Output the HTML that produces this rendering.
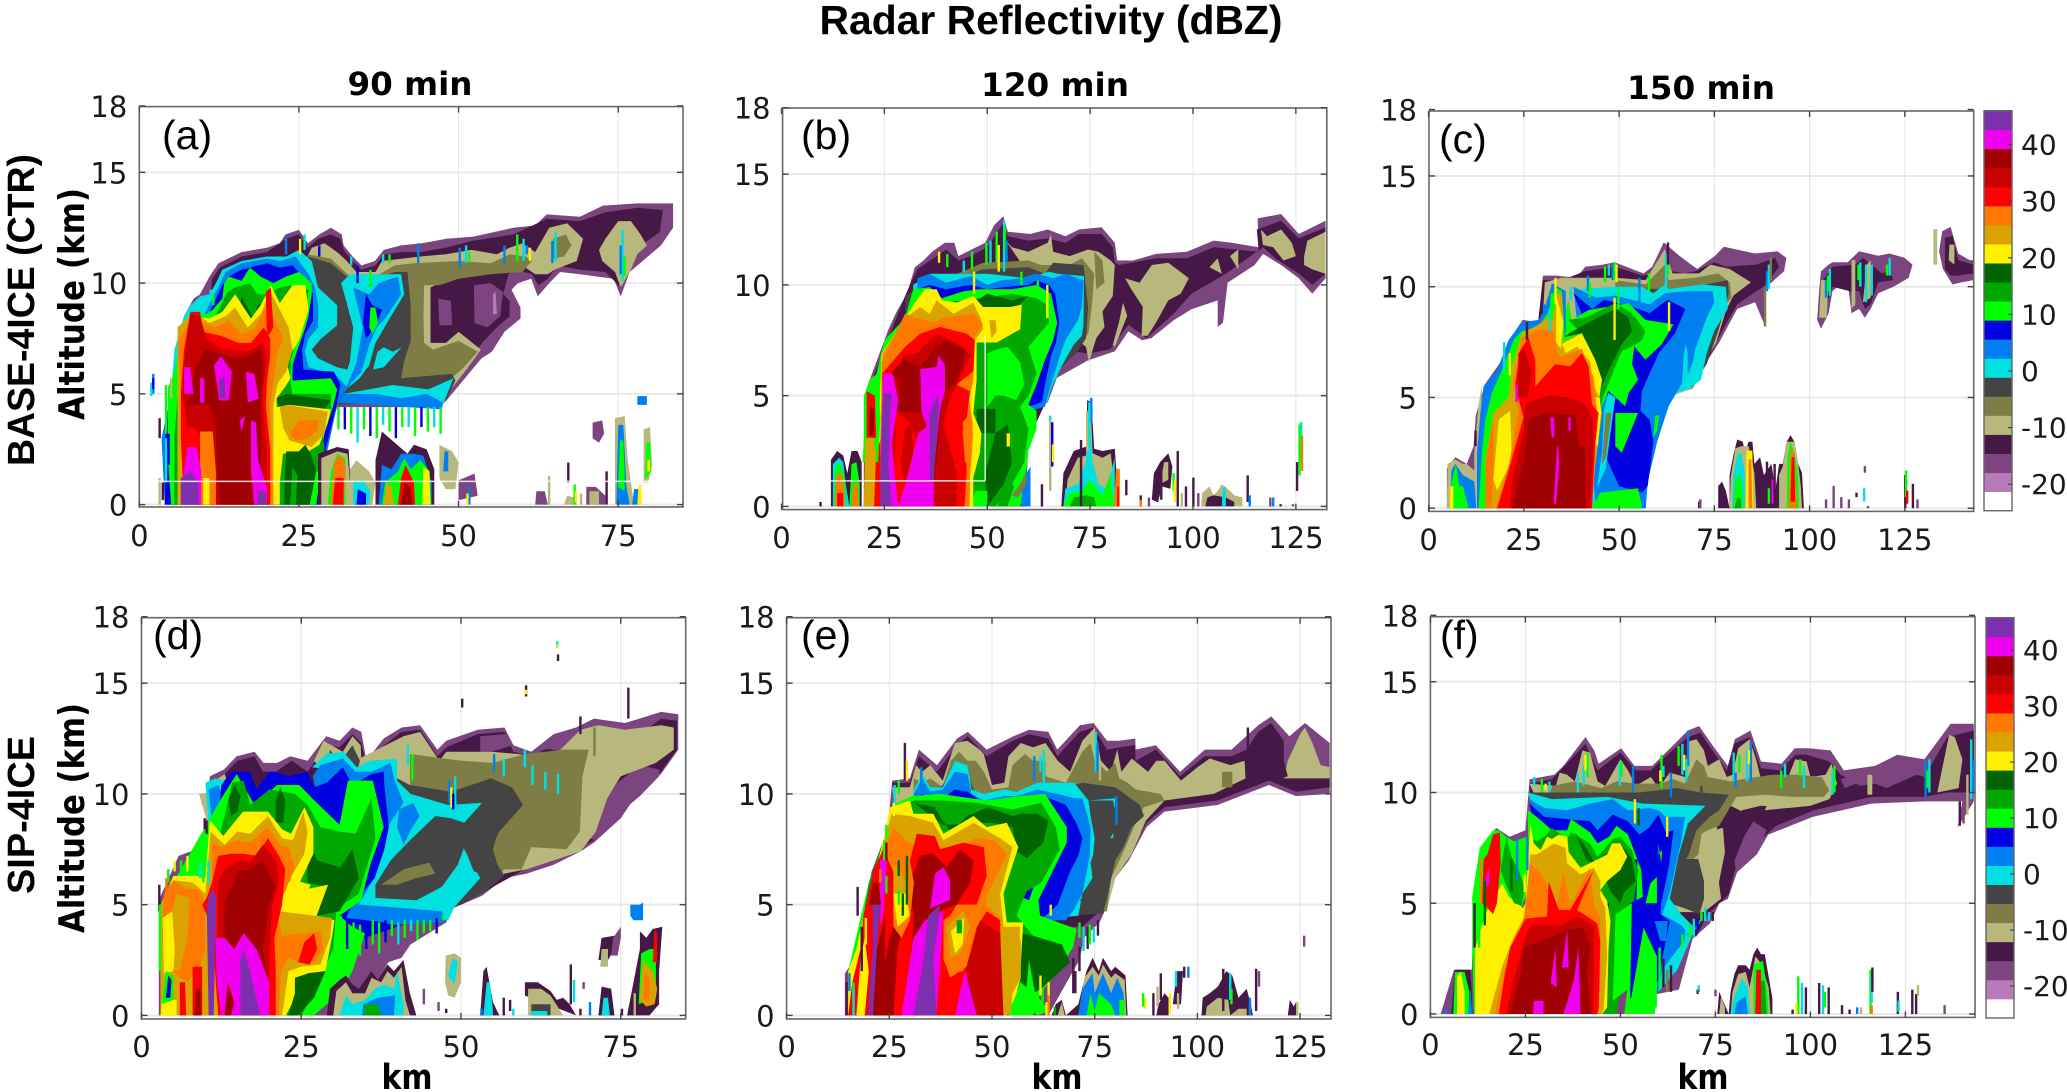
<!DOCTYPE html>
<html lang="en">
<head>
<meta charset="utf-8">
<title>Radar Reflectivity (dBZ)</title>
<style>
html,body{margin:0;padding:0;background:#fff;}
svg{display:block;}
.tick{font-family:"DejaVu Sans",sans-serif;font-size:29px;fill:#1a1a1a;}
.cb{font-family:"DejaVu Sans",sans-serif;font-size:28px;fill:#1a1a1a;}
.bold{font-family:"DejaVu Sans",sans-serif;font-weight:bold;fill:#000;}
.tag{font-family:"Liberation Sans",sans-serif;font-size:41px;fill:#000;}
</style>
</head>
<body>
<svg id="chart" xmlns="http://www.w3.org/2000/svg" width="2067" height="1092" viewBox="0 0 2067 1092">
<rect width="2067" height="1092" fill="#fff"/>
<g id="panels"></g>
<text x="1051" y="34" text-anchor="middle" font-family="Liberation Sans, sans-serif" font-weight="bold" font-size="41" textLength="463" lengthAdjust="spacingAndGlyphs">Radar Reflectivity (dBZ)</text>
<text class="bold" x="410" y="95" text-anchor="middle" font-size="32" textLength="125" lengthAdjust="spacingAndGlyphs">90 min</text>
<text class="bold" x="1055" y="96" text-anchor="middle" font-size="32" textLength="148" lengthAdjust="spacingAndGlyphs">120 min</text>
<text class="bold" x="1701" y="99" text-anchor="middle" font-size="32" textLength="148" lengthAdjust="spacingAndGlyphs">150 min</text>
<text transform="translate(34,466) rotate(-90)" font-family="Liberation Sans, sans-serif" font-weight="bold" font-size="38" textLength="312" lengthAdjust="spacingAndGlyphs">BASE-4ICE (CTR)</text>
<text class="bold" transform="translate(84,420) rotate(-90)" font-size="36" textLength="232" lengthAdjust="spacingAndGlyphs">Altitude (km)</text>
<text transform="translate(34,894) rotate(-90)" font-family="Liberation Sans, sans-serif" font-weight="bold" font-size="38" textLength="158" lengthAdjust="spacingAndGlyphs">SIP-4ICE</text>
<text class="bold" transform="translate(84,933) rotate(-90)" font-size="36" textLength="230" lengthAdjust="spacingAndGlyphs">Altitude (km)</text>
<text class="bold" x="407" y="1089" text-anchor="middle" font-size="35" textLength="51" lengthAdjust="spacingAndGlyphs">km</text>
<text class="bold" x="1057" y="1089" text-anchor="middle" font-size="35" textLength="51" lengthAdjust="spacingAndGlyphs">km</text>
<text class="bold" x="1703" y="1089" text-anchor="middle" font-size="35" textLength="51" lengthAdjust="spacingAndGlyphs">km</text>
<text class="tag" x="162" y="149">(a)</text>
<text class="tag" x="801" y="149">(b)</text>
<text class="tag" x="1439" y="153">(c)</text>
<text class="tag" x="153" y="649">(d)</text>
<text class="tag" x="801" y="649">(e)</text>
<text class="tag" x="1440" y="649">(f)</text>
</svg>
<script>
// colour scale: bands from low to high dBZ
const bandCeilings = [-21.4,-18,-14.7,-11.4,-8,-4.7,-1.4,2,5.3,8.6,12,15.3,18.6,22,25.3,28.6,32,35.3,38.6,42,46];
const bandColors = ['#ffffff','#b87ab8','#7d4580','#451845','#b8b87d','#7d7d45','#444444','#00e0e0','#0080f0','#0000e0','#00ff00','#00a800','#006400','#fff000','#dba300','#ff7800','#ff0000','#c80000','#a00000','#f000f0','#7d30ae'];
const colorbarTicks = [-20,-10,0,10,20,30,40];
const altitudeTicks = [0,5,10,15,18];
const xTicksShort = [0,25,50,75];
const xTicksLong = [0,25,50,75,100,125];

// Each region: [dBZ, [km, altitude, km, altitude, ...]]
const regionsA = [
[-16,[11,10.3,12.4,10.9,16,11.4,20,11.6,22,11.8,22.9,12.2,25,12.4,26.4,11.8,28.2,12.2,30,12.5,31.7,12.2,32,11.7,33.4,11.2,34.8,10.8,36.9,11,38.3,11.5,41,11.7,44.3,11.8,48.1,12,52.3,12.1,58.6,12.5,62,12.6,63.8,13.1,69,13,72.6,13.5,78,13.6,83.6,13.6,83.6,12.5,81.7,11.7,76.8,10.5,75.4,9.4,74.3,10.2,69,10.4,65.9,10.5,64.2,10,62.4,9.4,61.4,10.2,59.3,10,58.3,9.7,59.7,8.9,59.7,8.4,57.2,7.8,55.2,6.9,53.6,6.6,51,5.7,48.1,4.7,47,4.4,31,4.4,30,3.5,28,2.5,28,0,5,0,4.5,3,5.5,6,6,7.5,7,8.5,8.5,9.3,9.5,9.5]],
[-13,[11.4,10.2,12.6,10.7,16,11.2,20,11.4,23,12,25,12.2,26.4,11.6,28,12,30,12.2,31.5,12,32,11.5,33.4,11,34.8,10.6,37,10.8,38.3,11.3,41,11.4,44,11.4,48,11.6,52,11.9,58.6,12.2,63.8,12.9,69,12.8,73,13.2,78,13.4,82,13.3,81.5,12.3,79,11.8,76,10.7,75.4,9.8,73,10.5,69,10.6,65.5,10.8,64,10.2,62.5,9.9,61.5,10.4,59,10.6,57.8,10.4,57,9.5,58,9.2,58,8.5,56,8,54,7.4,50,6,48,5.2,31,4.6,28,5,11,9]],
[-16,[52.4,9.9,55,10,57,9.6,56.5,8.5,54.5,8,52.5,8.2]],
[-16,[46.8,9.3,48.8,9.2,49,8.1,47,8.1]],
[-20,[55.4,9.5,55.8,9.6,56,8.6,55.4,8.6]],
[-10,[27,11.6,29,11.8,31,11.4,32.5,11,34,10.5,37,10.5,38,11,41,11.1,44,11.2,48,11.3,52,11.5,56,11.3,58,11.6,60,11.8,62,11.4,64.2,12.5,67,12.7,69.5,12,68.5,11,65,10.6,64,10.4,62,10.4,60,10.8,58,10.8,54,10.7,50,10.4,47,10,45.6,9.8,45.6,8,45.6,7.3,48,7.3,50,7.8,53.5,7,51.5,6.2,48,4.9,30,4.5,28,10,26,11]],
[-10,[72,11.5,73,12,75,12.8,77,12.8,78.5,12.2,79.5,11.7,78,11.3,77,10.6,75.4,9.8,74.5,10.5,72.5,11]],
[-6,[64.8,12,66.8,12.2,67.7,11.7,66.5,11.2,64.8,11.1]],
[-6,[26.4,11.3,30,11.1,33,10.3,37,10.3,40,10.8,43,10.9,50,11,55,10.9,58,11.3,60.5,11.2,61.5,11,60,10.5,55,10.4,50,10.2,47,9.9,44.6,9.9,44.5,8.5,44.6,7.3,46,7,50,7.4,53,6.9,50.5,6.1,48,5.5,41,5.3,30,5,26,8]],
[-3,[26.4,11.2,30,10.9,32.5,10.3,37,10.2,40,10.5,42,10.5,42.5,9,42.5,7.4,41.5,6.5,41,5.7,49,5.9,49.5,5.6,48,4.7,30,4.5,26,6]],
[0,[12,10,13,10.6,16,11,20,11.2,23,11.2,25,11.5,27,11,28,9.8,31,9,31,8.1,28.5,7.5,27,7,28,6.6,31,6.2,34,6,32,5.2,30,4.5,28.5,2.5,28,0,4,0,3.5,3,5,5,5.5,7,7,8.5,8,9,9.5,9.4,11,9.5]],
[0,[31.3,4.6,32,5,39.7,5.4,45.3,5.2,49.2,5.7,48.1,4.9,47.4,4.4]],
[0,[36.6,6.1,37.3,6.9,38.3,7.1,39.7,6.9,41.1,7.1,38.3,6.2]],
[0,[33,10.4,41,10.4,41.5,9.5,39,8.3,37,7.3,36,6.3,34.5,5.7,31.5,5,33,6.5,33.5,8,32.3,9.3,31.6,10]],
[4,[33.5,9.8,36,9.5,37.5,10,40.5,10.3,41,9.5,38.5,8.4,37.2,8,36,7.2,34.8,6,33.2,5.5,32,5,34,6.4,34.5,7.2,35,8]],
[4,[31.2,4.6,32,5,34,5,37,5,41,4.8,45,5,47.6,4.6,47.4,4.3]],
[7,[35.5,9.5,36.5,9,38,8.8,37,8,35.5,7.5,35,8.2]],
[10,[36,8,36.2,8.9,37,8.9,37.4,8.2,36.5,7.7]],
[4,[12.5,9.9,13.5,10.5,16,10.9,20,11.1,22,11,24.5,11.2,26.5,10.4,27.5,9.8,28,9,28,8,26.5,7.5,25.9,6.9,26.5,6.2,31,5.8,32.5,5.3,31,4.5,29.5,2.5,28.5,0,4,0,3.5,3,5,5,5.5,6]],
[7,[13,9.9,14,10.3,16,10.6,20,10.9,22,10.7,24,10.8,26.5,10,27.2,9.5,27.2,8.3,26,7.7,25.5,7,25.7,6.1,30.5,6,31.5,5.4,31,4.6,29.2,2.5,28.3,0,4,0,4,3,5,5]],
[10,[13.3,10,14,10.3,16,10.1,17.3,10.7,19,10.3,21,10,23,10.3,25,10.5,27,10,27,9.5,26.5,8.5,25.8,7.8,24.8,7,24,6.3,24,5.6,30,5.7,31,5.2,30.3,4.4,29,3.2,28.5,2.3,28,1,27.5,0,5,0,4.5,2,4.5,4,4.5,5.3,5.5,6,6.5,7.5,7,8,8.5,8.7,10.5,8.6,11.5,8.8,13,9.3]],
[14,[13.8,9.6,15,9.8,17.3,10,18.5,9.5,20,9.5,22,9.8,24,9.9,26.5,9.7,26,8.5,25,7.7,24.2,7,23.7,6.5,23.7,5.5,24,5,30,5,30,4.2,28.5,3.8,29,2.5,28,1,27,0,5.5,0,5.5,3,6,5]],
[17,[21.5,4.8,23,5,30,4.7,29,4.3,22,4.2]],
[17,[16,9.4,18,8.3,18.5,9,20,9.2,19,8,17,7.8,15.5,8.2]],
[20,[8,8.5,11,8.4,13,8.7,15,9.5,17.5,8.4,19,9,20.6,9.9,22,9.1,24,9.9,26,9.9,26.5,8.8,25,7.4,23,6.5,23.7,5.7,22.8,5.3,21.5,4.8,21.5,4.4,23.5,4.5,30,4.3,29.5,3.7,28.2,2.7,26.5,2.4,22.5,2.3,22,1,22,0,6,0,6,5,6,8]],
[17,[23,2.4,25,2.4,26,2.7,27,2.2,27.7,1.5,26.7,0,24.5,0,24.8,1.3,24,1.7,23.6,0,22.7,0,22.8,1.5]],
[10,[26.7,0,27.7,1.5,28.5,1.5,27.7,0]],
[24,[6,8,8.5,8.7,11,8.2,13.5,8.5,15,8.9,17,8,19,8.6,20.5,9.6,22,8.8,23.4,8,24,7,23,6,21.7,5.5,21,4.5,21,0,6,0,6,5]],
[24,[22,4.4,23,4.5,29.5,4.2,29,3.2,27,2.6,23.5,2.9,22.5,3.5]],
[27,[23.5,3.2,25,3.8,28,3.8,28,3.4,26.5,3,24.5,2.9]],
[27,[6,7.3,8,8.4,10,8.2,12,8,14,8.3,16,7.7,18,7.9,20,9,21.5,8.2,22.5,7.5,21.5,6.7,21,5.5,20.5,4.5,21,0,7,0,6.5,5]],
[30,[7,7,8,8.7,9.5,8.7,10,7.8,13,7.6,15.5,7.3,17.5,7.3,19.5,8,20.5,7.5,20.5,6.7,20,5.6,19.8,4.5,20.5,2.5,20.5,0,7,0,6.5,3,6.5,5]],
[30,[19.8,9.6,20.6,9.8,21,8,20,7.5]],
[34,[7,6.5,8,8.6,9.5,8.5,10.5,7.5,13,7,15,7,17,6.9,19.5,7.3,20,6.6,19.5,5.5,19.3,4.5,20,2.5,20,0,11,0,11,1.5,10,3,8.5,3.5,7.5,3.5,6.8,5]],
[37,[8,5,9,6.3,10.5,7,12.5,6.8,15,6.6,17,6.7,19,7,19.5,6,19,5,19,4,19,1.5,18,0,12.7,0,12.2,1.5,12,3.5,11,4.5,9,4.5,7.5,4.5]],
[27,[9.5,0,9.5,3.3,11.5,3.3,12,1.5,12,0]],
[20,[10,0,10,1.2,11,1.2,11,0]],
[40,[7,6.2,8,6.2,8.5,5,7,5]],
[40,[11.7,6.3,12.8,6.7,14.5,6,14,4.7,12.5,4.7]],
[40,[16.7,6,18,5.9,18.7,4.8,17,4.6]],
[40,[9.5,5.7,10.2,5.7,10.2,4.6,9.5,4.6]],
[40,[17.5,3.8,18.3,3.7,18.6,2,20,0.8,20,0,18,0,17.5,1.5]],
[40,[7.5,2.6,9,2.6,9.7,1.5,9.7,0,6.5,0,7,1.5]],
[40,[15.7,3.8,16.6,4,16,3.3]],
[44,[6.5,0,6.5,1.2,8,1.5,9.2,1,9.3,0]],
[44,[12.5,5.6,13.3,5.8,13.5,4.8,12.6,4.8]],
[44,[18.5,0,18.6,0.6,19.7,0.6,20,0]],
// low clouds
[-13,[28,0,28,2.3,31,2.6,32.8,2.5,33,1.3,36,1.3,36.5,0]],
[-10,[28.5,0,28.5,2.1,31,2.4,32.6,2.3,33,1,35,1,35,0]],
[10,[29.5,0,30,1.5,31,2.3,32.3,2.1,32.3,0]],
[27,[30,0,30.5,1.8,31,2.2,32,2.1,32.3,1.5,32,0]],
[30,[30.3,0,30.7,1.2,32,1.2,32,0]],
[-10,[33,0,33,1.6,34,2,36,1.5,37,1,36.5,0]],
[0,[33.5,0,33.5,1,35,1.1,36.2,0.6,36,0]],
[7,[34,0,34.2,0.7,35.5,0.5,35.5,0]],
[-13,[37,0,37,2,38,3.3,40,2.8,42,2.3,43,2.7,45,2.5,46.2,1.6,46.2,0]],
[4,[37.5,0,38,1.8,39.5,1.6,41,2.3,43,2.3,44.5,2.2,45.8,1,45.8,0]],
[10,[38,0,38.5,1,40.5,1.5,41.5,2.1,42.5,1.6,44,2,45.5,1.5,45.7,0]],
[24,[38.3,0,38.7,1,39.5,0.8,39.8,0]],
[20,[44.3,0,44.5,1.7,45.4,1.5,45.6,0]],
[30,[40.5,0,41,1.2,41.7,1.8,43,1,43.2,0]],
[37,[41,0,41.5,1,42.5,0.8,42.8,0]],
[-10,[47,1.2,47,2.7,49,2.4,50,1.9,49.5,0.7,48,0.7]],
[4,[47.6,1.5,47.8,2.4,48.4,2.4,48.4,1.5]],
[-16,[50,0.2,50,1.1,52.5,1.4,53,0.4]],
[-16,[62,0,62.2,0.6,63.5,0.6,64,0]],
[-10,[66.5,0,67,0.4,68.5,0.3,68.5,0]],
[-16,[70,0,70,0.8,71.5,0.8,73,0.4,73,0]],
[-10,[70.5,0,70.5,0.6,72,0.6,72,0]],
[-16,[71,3,71,3.7,72.5,3.8,72.8,3.2,72,2.8]],
[-10,[74.5,0,74.5,3.9,76,4,76.5,2,77.5,0]],
[4,[74.7,0,75,3.6,75.8,3.6,76.3,0.8,76.8,0]],
[10,[75,0.8,75.3,2.9,75.8,2.9,76,1.5,76,0.6]],
[-10,[79,1,79,3.4,80,3.5,80.3,1.8,79.7,1]],
[10,[79.2,1.1,79.4,2.8,80,2.8,80.2,1.5]],
[20,[79.5,1.5,79.6,2,80,2,80,1.5]],
[4,[78,4.5,78,4.9,79.5,4.9,79.5,4.5]],
[4,[77.2,0,77.5,0.7,78.5,0.7,78.5,0]],
[20,[78,0,78.2,0.9,78.6,0.9,78.7,0]]
];
// Each streak: [dBZ, km, bottom altitude, top altitude]
const streaksA = [
[-13,3,3,3.9],[10,4,3.2,5.4],[4,2,5,5.9],[0,1.7,4.9,5.5],[7,2,5.2,5.7],[-10,3,0,1.2],[-13,3.5,0.2,1],[0,4,1,3],[7,4.4,1.8,3.2],[-10,4.8,4.8,5.7],
[0,11,9.3,9.7],[10,11.4,9,9.5],[4,22.8,11.3,12],[20,25,11.3,12],[0,25.7,11.5,12.2],[7,28,11.2,11.7],
[10,31,3.4,4.4],[7,32,3.4,4.4],[10,33,3.2,4.4],[0,34,2.8,4.4],[10,35,3.4,4.4],[7,36,3.1,4.4],[10,37,3,4.4],[0,38,3.6,4.4],[10,39,3.3,4.4],[7,40,3,4.4],[10,41,3.5,4.4],[0,42,3.5,4.4],[10,43,3.1,4.4],[7,44,3.5,4.4],[10,45,3.3,4.4],[0,46,3.5,4.4],[10,47,3.2,4.4],
[0,33,10.8,11.2],[7,34,10,10.8],[10,36,9.8,10.6],[0,38,10.9,11.3],[10,39,10.9,11.3],[4,43.5,10.9,11.8],[4,50,10.7,11.6],[0,51,10.9,11.7],[10,51.5,11,11.4],[4,57,10.9,11.7],[10,59,11,12.2],[0,60,11,12],[4,60.5,11.3,11.7],[20,61,11,11.6],[0,65,11,12.3],[4,64.5,10.9,11.9],[0,75.5,10.1,12.4],[10,75.8,10.3,11.2],[4,75.2,10.4,11.7],
[4,51.5,0,0.8],[20,51.2,0,0.5],[-10,64,0,1.3],[-13,67,1,1.9],[10,68,0,0.9],[20,68.2,0.1,0.6],[-10,69,0,0.5],[-13,73,0,1.5]
];
const whiteLinesA = [[0,1.05,85.2,1.05]];

const regionsB = [
[-16,[32.4,10.8,34.5,11.1,36.6,11.5,39.7,11.9,42,11.9,43,11.3,46.2,11.6,49.5,11.9,51.7,12.7,53.9,13.1,55,12.4,60.4,12.3,64.7,12.5,69,12.2,72.3,12.5,77.8,12.6,81,11.9,81.6,11.1,85.4,11.1,91,11.4,98.5,11.5,105,12,109.4,11.9,116,11.7,115.7,13,121.4,13.2,125.7,12.3,132.2,12.9,132.2,10.3,129,9.6,125.7,10.3,121.4,10.9,117,11.4,115,10.9,108.4,10.1,107.3,8.3,106,8.1,106,9.3,99.6,8.9,95.3,8.4,89.9,7.6,87.6,7.5,84.3,7.9,81,7,74.5,6.6,66.9,5.8,64.7,4.7,62.5,4.4,60.9,3.4,59.8,2.4,59.3,0,20,0,20,3,20.5,4.5,21,5.5,24,7,26,8,28,8.8,30.5,9.6]],
[-13,[33,10.7,40,11.6,43,11.1,46,11.3,50,11.7,53.9,12.8,55,12.2,60,12,64.7,12.1,69,11.9,72.3,12.3,77.8,12.3,80.5,11.7,81,11,82,10.9,91,11.2,98.5,11.2,105,11.7,116,11.5,115.5,12.5,121.4,12.9,125.7,12.1,132.2,12.6,132.2,10.5,129,10,125.7,10.5,120,11.2,117,11.7,108,10.5,99.6,9.6,95.3,8.7,88.7,7.6,84.3,8.2,79.9,7.1,74.5,6.9,71,7,66,6,64.7,4.9,60,3,59.3,0,20,0,20.5,5,30,9.5]],
[-10,[54.5,12,56,11.7,60,11.5,64.7,11.9,65.5,12.3,66,11.5,70,11.3,74.5,11.6,77,11.5,80,11.1,81,10.9,80.5,9.5,78,8.8,78.5,8.1,76.5,7.6,74.7,6.5,74,7.2,72,7.5,72,10.5,60,10.5]],
[-10,[83.5,10.3,87,10.1,90,10.9,94,11,99,10.3,97,9.6,94,9.3,91,8.3,89,7.7,87.5,7.7,87.8,9,85,9.8]],
[-10,[80.5,7.3,82,8.3,83,9.2,84,8.6,82.5,7.9,81,7.2]],
[-10,[116.5,12.5,118,12.2,121.4,12.5,124,11.9,125,11.3,122,11.1,119.5,11.7,117,11.8]],
[-10,[127,10.9,127,11.3,127.8,12,132.2,12.4,132.2,10.5,129,10.7]],
[-10,[104,10.8,106,11.2,107,10.5]],
[-10,[109,11.3,111,11.6,111,10.7]],
[-6,[49,11,60,11.1,63,10.9,70,10.9,73,11.2,76,10.5,75.5,9.2,74.6,7.8,71.5,7.2,66,5.7,64.5,4.9,60,4.9,30,5,30,9.5]],
[-6,[76,11.5,78,11.1,78.5,10.1,76.5,9.8]],
[-3,[30,9.5,49,10.7,60,10.8,64,10.5,66,11,73.4,10.9,74.5,9,74,7.6,72,7,65.5,5.8,64.7,4.8,59,4.5,30,4]],
[0,[32,10,36,10.5,50,10.5,60,10.3,65,10.6,67,10.5,73.5,10.4,73.4,8.2,73,7.7,71,7.3,68,6.3,65.5,5.3,64.6,4.7,58,4.4,32,4]],
[4,[33,10.3,36,10.5,40,10.1,46,10.4,50,10,53,10.2,58,10.3,62,10.5,66,10.3,69,10.5,73.4,10.2,73,9,72,8.4,69,7.5,68,7,65,5.2,64,4.5,58,4.2,33,4]],
[7,[33,9.8,36,10,40,9.8,46,10,50,9.8,54,9.9,60,10,62,10.2,65,10,66.5,9.6,67.5,8.3,66.7,7.4,65.5,6.8,64,5.5,63.3,4.7,58.5,4.4,33,4]],
[10,[32,9.8,36,9.9,39,9.4,44,9.7,48,9.8,56,9.8,62,10,65.5,9.6,67,8.3,66,7.5,64,6.6,62,5.5,60,4.6,62,4.3,62,3.5,60,2.5,59.5,1.5,60,1.3,58,0,20,0,20.5,4,25,7.5,30,8.5]],
[4,[58.3,0,58.6,1.2,60.5,1.8,60.5,0]],
[-6,[56,0.5,58,1,59.5,1.6,59.5,1,57.5,0.4]],
[14,[33,9,39,9.2,44,9.3,56,9.6,62,9.4,64.5,9.1,65,8.3,60,7.2,62,6,60,5,58,4.5,60,3.5,59,2,56,1,52,0,45,0,45,5]],
[10,[50,6.9,52.5,7.1,55,7.2,58,6.5,59,5.5,57,4.8,54,5,52,5,50,4.5]],
[17,[34,9.6,39,9,44,8.9,50,9.6,56,9.3,60,9.5,56,8.8,50,8.7,44,8.4,38,8.4]],
[17,[47.4,4.4,52,4.4,52,3.3,47.4,3.3]],
[17,[49.5,1.5,52,3.3,55,3.7,56,2,54,1,52,0.5,50,0]],
[14,[52.5,0,54,0.8,55,1.3,56.5,0.9,55,0]],
[10,[46.2,0,47,0.7,50,0.7,50,0]],
[20,[54.7,3.3,55.5,3.3,55.5,2.7,54.7,2.7]],
[20,[32.8,9.3,34.9,9.8,37.7,9.8,39,9.3,42.6,9.2,46.6,9.5,49,9,55.5,9,58.4,9.1,58,8,52.3,7.4,47.4,7.4,47.4,5.7,46.6,4.2,48.6,3.3,48.2,2.4,46.6,1.3,46.6,0,23,0,24.3,6.9,30.4,8.6]],
[24,[33.7,9,36,8.7,37.7,9.3,41.8,8.7,46.6,9.2,48.6,8.4,49,8,47,7.5,46.6,5.7,45,4.2,46.6,3.3,45.8,1.3,45.8,0,23.5,0,24.5,6.9,30,8.5]],
[24,[50.5,8.4,52,8.4,52.3,7.9,51,7.6]],
[27,[30,8.7,33,8.5,36.9,8.3,39.3,8.5,46.6,8.7,49,8.2,47,7.7,46.6,5.7,45.5,5,46.5,3.7,46,2,45.4,0,24,0,24.3,6.5]],
[30,[30,7.2,33.7,7.8,38.5,8.1,45,7.8,47,7.5,46.6,6.1,42.6,5.5,45.8,5.2,45,4,44,3.8,45,1.7,44.5,0,25,0,24.5,6]],
[34,[29.6,6.8,32.8,6.9,37.7,7.8,44.2,7.2,45.8,6.8,42.6,5.5,41,4.9,39.3,3.7,42.6,1.5,42.6,0,24,0,26,5]],
[37,[26.4,6,29.6,6.6,33.7,6.3,37.7,7.2,40.1,7.5,45,7,42.6,5.7,39.7,5.1,38.5,3.6,37,0.9,37,0,31,0,31,1.2,33.7,3.2,35.3,4.2,28,4.3,28.8,5.7]],
[30,[28,4.3,31,3.8,33,3,31,1.2,30,0,27,0,27.5,2]],
[34,[29,2,30,3.5,31.5,3.7,32,2.5,30,1]],
[40,[33.7,6.2,37.7,6.3,38.1,6.8,39.7,6.4,39.7,5.2,38.5,4.3,37,1.6,37,0,28.4,0,31,1.6,33.2,3.3,35.3,3.6,34,4.3]],
[44,[36,4.2,38.1,5.1,38.1,4.2,37,1.2,36,1.2]],
[40,[24.7,6,27,6,28.4,4.8,28,4.3,26.8,2.8,27.5,1.5,28.4,0,26,0,24,2]],
[44,[24.7,5.1,26.8,5.1,26.4,4.2,26,1.8,26.8,0,23.5,0,24.3,2.7]],
[40,[20.5,0,20.7,2.5,21.6,2.7,22.5,0.7,22,0]],
[30,[22,0,22.5,2,24,3,24,0]],
[27,[45.5,4.3,46.2,3.7,45.5,2,44.6,2,44,3.4]],
// leading small cell
[-13,[12,0,12,2.1,13.5,2.5,15,2.3,16,1.5,17,2.5,18.5,2.5,19.5,2,19.5,0]],
[0,[12.5,0,12.5,1.9,14,2.2,15,2,15.6,1,16.5,0]],
[10,[12.8,0,13,1.7,14,2,15,1.6,15.5,1,15.5,0]],
[27,[13,0,13.2,1.3,14.5,1.6,15.2,0.8,15.4,0]],
[30,[13.5,0,13.5,0.6,15,0.6,15,0]],
[10,[16.5,0,17,1.9,18.2,2,19,1,19,0]],
[27,[17,0,17.5,1,18.5,1,18.8,0]],
[10,[19.7,2,20,3,20,5,21.7,5.8,23.5,6,24,4,23.5,2]],
[24,[20,0,20.4,3,22,3.3,23,2.5,22.5,0]],
[30,[20.7,3.1,20.7,5.2,22.7,5,23,3.1]],
[37,[21.3,3.2,21.5,4.5,22.5,4.4,22.5,3.2]],
// low clouds
[-13,[68,0,68.5,1.5,71,2.5,74,2.7,74.3,4.8,75.3,4.7,76,2.6,78,2.5,81,2.6,82,0]],
[-10,[69,0,69.5,1.2,72,2.2,74,2.3,74.5,4.4,75.2,4.3,75.6,2.4,78,2.2,80,2.4,81.5,0]],
[0,[68.5,0,69,0.8,72,1,74,2,74.6,3.7,75,3.7,75.6,2,77,1,79,0.8,81,2.2,81,0]],
[10,[68.5,0,70,0.6,73,0.7,75,1.2,78,0.5,80,1.5,80.8,0]],
[14,[70,0,71,0.4,74,0.5,76,0.4,76.5,0]],
[27,[80.8,0,81.3,1.7,82.2,1.7,82.2,0]],
[30,[81.5,0,81.6,0.9,82,0.9,82,0]],
[-10,[102,0,102.2,0.6,104,0.9,105,0.5,106,0.7,107,1,109,0.7,110,0.5,112,0.4,112,0]],
[-13,[103,0,103.5,0.4,105,0.5,108,0.4,110,0.2,110,0]],
[0,[107,0,107.2,0.8,108,0.9,108,0]],
[-13,[90,0.3,90.5,1.5,92,2,94,2.4,95,1.8,94.5,0.8,92.5,0.9,91.5,0.2]],
[-10,[92,1,93,2,94,2,94,1.2]]
];
const streaksB = [
[-13,9.2,0,0.2],[20,38,11,11.5],[10,40,10.8,11.4],[0,44,10.6,11.1],[10,46,10.7,11.5],[20,46.5,9.6,10.6],[10,49.5,10.9,11.9],[0,50.5,11,12],[10,52,11,12.4],[20,52.5,10.6,11.8],[0,53.8,10.6,12.9],[10,54,11.5,12.6],[4,54.4,11,12],[10,58,10,10.6],[10,62,9.4,10.2],[20,64.3,8.5,10],
[0,65,3.9,4.1],[-10,65,0.7,3.9],[7,65.5,1.8,3.8],[20,65.7,2,2.8],[-13,63,0,1],[4,75,3.8,4.9],[-10,74,2.5,4.3],[0,74.5,3,4.7],[-13,72.5,0,3],[0,126,2,3.8],[27,126.2,1.6,3.2],[10,125.6,1.4,3.7],[-13,125,0.7,2],[-13,83.5,0.5,1.2],[-13,87,0,0.5],[27,87,0,0.3],[-16,89,0,0.4],[-13,91,1,0.2],[-13,92,1.5,0.3],[10,95,0.7,1.5],[20,95.3,0.2,1.2],[-13,96,0,2.5],[-10,97,0,0.6],[-13,98,0,0.9],[-13,99.8,0,1.3],[-16,101,0,0.6],[-16,118.5,0,0.4],[4,119.2,0,0.4],[-13,121,0,0.1],[-16,124,0,0.1],[-13,113,0.2,1.4],[4,113.5,0,0.5]
];
const whiteLinesB = [[0,1.15,49.5,1.15],[49.5,1.15,49.5,7.7]];

const regionsC = [
[-16,[4.8,0,4.8,1.8,7,2.3,10,2,11.8,2.8,12.4,4.2,14.8,5.6,18.9,6.6,21.2,7.6,24.7,8.5,28.8,8.4,30,10.5,33.5,10.5,38.8,10.4,41.1,10.9,45.8,11,48.8,11.1,56.4,10.6,58.7,10.9,61.7,12,65.8,11.4,70.5,10.8,75.2,11.4,77.5,11.8,85.7,11.5,91.6,11.6,93.9,11.3,93.3,10.7,88.1,9.9,88.1,8.3,85.7,9.3,81,9,76.3,7.5,72.2,6.4,69.3,5.4,63.4,5.1,59.9,4,57.6,1.9,56.4,0]],
[-13,[28.8,8.5,30,10.3,35,10.3,41,10.7,49,10.9,56,10.5,64,10.7,67,10.6,70,10.7,75,11.1,78,10.9,86,11,91,11.3,92,10.9,88,10,86,9.8,81,9.2,77,8,73,6.6,69,5.5,63,5,28,5]],
[-10,[30,8.7,30.5,10.2,35,10.4,40,10.4,49,10.4,57,10.3,62,11.7,64,10.6,71,10.6,74,11,79,10.8,84.6,10.2,80,9.6,78,8.9,75.5,7.5,72,6.4,69,5.4,63,5,60,4.5,30,4.5]],
[-6,[49,10.3,57,10.1,62,11,63,10.3,70,10.4,76,10.6,79,10.2,79.5,9.5,78,9.2,76,8,73.5,6.8,70,5.7,63,5.2,49,5]],
[-3,[49,10,57,9.9,62,9.9,70,10,78.5,10.3,78.8,9.7,76,8,73,6.5,69,5.5,63,5.2,49,5]],
[0,[40,9.9,49,10,56,10,59,9.7,62,10.1,63,9.9,72,10.1,78,10,78.5,9,75,8,73,7,71.5,5.8,68.5,5.4,65,5.2,63,4.6,60,3.5,57,1,56.4,0,42,0,43,3]],
[4,[38,10,44,9.5,49,9.6,58,9.2,62,9.7,68,9.8,74.5,9.8,75,9.3,73,8.6,70,7.2,69.5,6.7,68.5,6.2,66,5.5,63,4.6,60,3,57.5,1.2,57,0,44,0]],
[0,[67,7,67.5,7.4,68,7,68,5.9,66.5,5.6]],
[7,[38,9.7,43,9,46,9.4,49,9.3,55,9,58,8.8,61,9.2,62.8,9.4,67.4,9,64.7,7.9,60.4,7,56,5.3,55.6,4.4,58,4,59,3,57.5,1,56,0.7,50,1,46,2.5,47,5,45,7,42,8]],
[0,[44.2,0.9,46.5,1.8,49,5,47.2,5.2,46,4.4,45.5,2.5]],
[-6,[45.5,2,46.5,2.3,48,4.3,46.5,4.3]],
[10,[35,8.2,36.7,9.4,37.6,8.5,42,8.95,52.5,9.25,56.9,8.5,64.3,8.3,61.2,7.4,56.9,6.7,54,7.3,53.4,6.5,55,5.8,52.5,5.2,51.6,4.6,47.2,5.3,45.5,4.6,44.2,3.1,43,1.3,42.4,0,38,0,38,6]],
[10,[49,4.3,55,4.3,50.7,2.5,49,2.8]],
[10,[42.9,0,45,0.7,55,0.9,56,0]],
[10,[59,3.2,59.5,4.2,60.5,4.2,60,3.5]],
[14,[36.7,8.5,41,8.6,49,9.25,53.4,8.8,56.9,8,56,7.6,53.4,7.3,50.7,7.1,49,6.4,47.2,5.6,45.5,4.9,45,4,44,4.5,45,7.7,40,7.9]],
[17,[35,7.7,41,8.3,49,9,52.5,8.6,53.4,8,50.7,7.4,47.2,6.2,45,5.3,44.6,6.1,42.9,7,40.2,7.9]],
[-10,[12,0,12,2.5,13,4.5,14,5.6,13.9,4,13,2,13,0]],
[4,[12.7,0,12.7,2.5,13.6,4.3,14.4,5.5,17.9,6.2,21,7.6,24.5,8.4,28.9,8.5,30.2,8.9,32.4,10.15,36,9.8,36,8,34,5,43,4,43,0]],
[10,[13.1,0,14,2.5,14.9,4,16.6,5.2,19.7,6.4,22.3,7.6,24.5,8,28.9,8.2,31.5,8.9,33.2,10,35,9.8,36,7,34,4,43,3,43,0]],
[24,[14.9,0,14.9,2.2,17,4.3,21,5,21.9,6.4,24.5,7.9,28.9,8.3,32.8,8.8,33.7,9.7,35,9.7,35.4,8.5,35,7.5,40.2,7.9,43.7,6.7,45.5,5.8,44.6,4.9,45.5,4.3,43.7,1.9,42.9,0]],
[20,[17,1.3,18.4,4,21.4,4.4,21.9,2.2,18,0.8]],
[20,[35,7.4,40.2,7.9,43.7,6.7,45.5,5.8,44.8,5,43,5.7,42.5,6.6,39,7.3,36,7]],
[20,[33.5,9.6,35.4,8.4,34.7,7.2,33.5,7.5]],
[20,[43,5,44.9,5,45.3,4.4,44.4,2.8,43.5,3]],
[27,[14.9,0,15,2.2,16.9,3.9,17.2,2.5,16.5,0]],
[27,[17.5,0,21,1.9,23.6,4.3,22.3,5.8,24.5,7.7,29.7,8.1,32.8,8,33.7,7.1,34.6,6.8,40.2,7.2,43.3,5.9,44.2,4.4,43.3,2.3,42.9,0]],
[30,[18,0,21,1.7,24.9,4.1,22.7,5.5,24,7.1,26.2,7.7,28,6.7,28,5.5,33.2,6.5,37.2,6.4,40.2,7,42,6.4,42.9,4.7,44.6,4.3,43.7,2.8,42.9,0]],
[34,[21.4,0,21.9,1.3,24.9,3.5,25.4,4.7,31.5,5.1,36.7,5,41.1,4.7,42.9,4,43.3,2.8,42.4,0]],
[34,[23.6,7,25,7.2,27,6.2,26,5,23.5,5]],
[37,[21.9,0,25.4,2.5,26.2,4,30.6,4.3,38.5,4.2,39.4,2.8,41.1,2.8,41.1,0]],
[40,[31.9,4.1,33,4.1,33,3.2,32.3,3.2]],
[40,[36.7,4.1,37.3,4.1,37.3,3.5,36.7,3.5]],
[40,[33.7,2.8,32.8,0.2,33.5,0.2,34.3,2,34,2.8]],
// low-left cell
[-10,[4.8,0,5,2,7,2.2,9,2,10,2,12,1.7,12.7,0]],
[4,[5.5,0,6,1.7,7,2,9,1.5,12,1.2,12.5,0]],
[10,[5.5,0,6,1.2,7.2,2,8,1,9,1,10.5,0]],
[20,[5.5,0,5.7,1,6.5,1,6.5,0]],
// upper right
[-16,[102,8.5,102.5,9.8,103,10.7,105,11,106,11.1,110,11.1,113,11.6,118,11.4,121,11.5,125,11.3,127,11,126,10.4,122,10,118,9.7,116,9,114.5,8.6,113,9,111,8.8,110,10.2,108,10.1,106,9.8,105,8.8,103,8.1]],
[-13,[103,9,103.5,10.3,106,10.9,112,11,114,11.3,119,10.6,121,10.7,122,10.3,118,10.2,116,9.2,114.5,9,113,9.8,110.5,9.8,106,10,104.5,9.2]],
[-10,[102.5,8.6,103,10.3,105,10.3,104.5,8.6]],
[-10,[111,9,111,11.2,112,11.2,112,9.2]],
[-10,[114,9.3,115,11,116,11.2,116,9.5]],
[-16,[134,11.6,134.8,12.5,137,12.7,139,11.5,142,11.2,143,11.2,143,10.3,140,10.2,137.5,10.1,135,10.8]],
[-13,[135.5,10.8,135.5,12.2,137.5,12.3,139,11.2,143,11,143,10.6,139,10.5,137,10.5]],
[-10,[136.5,11.2,136.7,11.9,138,11.9,138,11]],
[-10,[132.5,11,132.5,12.6,133.5,12.6,133.5,11]],
// low clouds
[-13,[76,0,76,1,77,1.2,78,0.8,79,0,79,1.5,80,2.4,81,3.1,82.5,3,83,2.5,84,3,85,3,85.5,2,87,2.3,88,1.5,90,2,91,0.8,92,2,93,2,94,3,95,3.3,96,3,97,2,98,1.6,98.5,0]],
[-10,[79,0,79.3,1.4,80.5,2.7,82,2.8,84,2.8,85.5,1.6,86,0]],
[0,[79.7,0,80,1.5,81,2.4,82,2.5,83,1.6,83,0]],
[10,[80,0,80.5,1.2,81.5,1.6,82.3,1,82.5,0]],
[14,[80.3,0,81,0.5,82,0.4,82,0]],
[20,[83.2,0,83.4,2.6,85,2.6,85.3,0]],
[27,[84,0,84,2.2,84.7,2.2,85,0]],
[-10,[92,0,92,1.5,93,1.9,94,3,96,3,97,2,97.7,1,98,0]],
[10,[94,0,94.2,2.4,95,3,96,2.5,97,1.5,97.2,0]],
[27,[94.5,0,95,2.7,96,2.5,96.6,0]],
[30,[95,0.3,95.3,2.3,96,2.3,96.2,0.3]]
];
const streaksC = [
[4,48,10.3,11],[10,48.5,10.3,11.1],[20,49,10.2,11],[0,47,10.5,11],[10,46,10.2,10.9],[10,49.5,9,9.9],[20,48.5,7.6,9.5],[4,55,9.3,10.4],[10,57.5,9.8,10.6],[0,62,10,11.5],[10,62.5,10.5,11.1],[-13,62.5,11,12],
[20,62.8,8,9.3],[20,33,9.2,10.4],[0,31.5,8,9],[10,32,8.5,9.7],[4,30,8.8,9.2],[0,37,9.4,10],[4,41.5,9.8,10.5],[10,42,9.5,10.2],
[4,88.5,9.8,10.7],[0,89,9.9,11],[-6,89.5,10.3,11.3],[-6,88,8.2,10],
[4,104,9.5,10.3],[0,105,9.6,10.8],[10,104.5,9.8,10.5],[0,113,10,11.1],[10,112.5,10.3,11],[0,114.5,9.3,11],[0,116,9.6,11],[10,120,10.5,11],[0,120.7,10.5,11.3],
[40,22.8,4.8,5.6],[-13,12,2.8,3.5],[0,19.5,6.2,7.5],[20,21,6,7],[-13,25.5,7.6,8.4],
[40,90,0.2,1.3],[-13,88.5,1.2,2.1],[-13,90.5,0.1,2],[10,89,0.2,0.9],[-13,70.7,0,0.3],[-16,104,0,0.4],[-16,108,0,0.5],[-16,110,0,0.4],[-13,112,0.5,0.7],[-16,106,0,1],[0,114,0.3,0.9],[-16,114.2,1.6,1.9],[-16,115,0,0.1],
[-13,124.8,0,1.5],[10,125,0.5,1.7],[30,125.3,0.2,0.8],[-13,126.8,0,1.1],[-16,128,0,0.4],[-16,71,0.4,0]
];
const whiteLinesC = [];

const regionsD = [
[-16,[2.7,0,2.7,5.2,5.8,7.2,8.6,7.5,10,8.6,10.7,10.8,12.9,11.1,14.9,11.7,17.7,11.9,19.1,11.4,21.2,11.4,23.3,11.7,26,11.5,28.9,12.6,31,12.4,33,13,34.4,12.8,35.2,11.5,37.9,12.5,40.7,13,43.6,13.1,46.3,12,47.7,12.4,52.6,12.9,56.8,13,58.2,12.2,61,11.9,64.5,12.7,68,13,70.8,13.4,75.7,13.2,81.3,13.7,84,13.6,84,12,81.3,10.9,77.1,9.8,75,8.9,70.8,7.8,68.7,7.4,64.5,6.8,60.3,6.4,56.8,6.2,53.3,5.4,48.4,4.8,47.7,4.2,44.9,3.7,42.1,3.2,40.7,2.6,38.6,2.4,36,1,30,0]],
[-13,[11,10.5,13,10.9,15,11.5,17.7,11.7,19,11,21,11,23.5,11.5,26,11,29,12.2,31,12.1,33,12.7,34.4,12.3,35.2,11.2,38,12.2,40.7,12.8,43.6,12.9,46.3,11.7,47.7,12.1,52.6,12.7,56.8,12.8,58.2,11.9,61,11.7,63,12,66,12.1,68,12.6,70.8,13,75.7,12.8,78,12.7,81.3,13.4,83.8,13.3,83.8,12,81.3,11,77,9.7,73,8.6,70.8,7.9,64.5,7,60,6.6,50,5,30,3]],
[-16,[53,11.9,53,12.6,57,12.7,58,12.2,56,12,54.5,11.9]],
[-16,[64,12.2,68,12.7,71.5,12.9,78,12.9,78,12.3,72,12.2,68,11.9,64,12]],
[-16,[71.8,9.4,74.5,10.5,78,11.3,81,11.1,81,10.8,78,9.9,75.5,9.3,71.2,7.9,70,8]],
[-10,[41,12.6,43.6,12.8,46.6,11.5,47.7,11.9,54.8,11.9,59,11.8,61,11.7,64.5,11.7,68.7,12.9,71.5,13.1,75.7,12.9,81.3,13.1,83.3,13,83.3,12,80.5,11.4,75,10.8,72.9,9.8,71.1,8.3,68.7,7.4,64.5,7,60.3,6.6,56.8,6.4,53.3,5.5,48.4,4.9,30,4.5,30,11]],
[-10,[27,11.5,28.5,12.4,31.5,11.9,33,12.6,34.3,12.2,34.5,11,30,10.5]],
[-10,[9,10,10.5,8.5,11,10.5,13,10.9,14,10.2]],
[-6,[42,10.5,42,11.8,50,11.5,55,11.4,60,11.8,66,12,70,12,69,10.8,68.6,8.3,66.5,7.5,61,7.6,59.5,6.6,56.8,6.6,53,5.6,48.5,5,45,5]],
[-3,[40,10.7,42,10.4,48.4,10.1,54.7,10.7,58,10.3,59.7,9.5,56,8.3,54.4,7.4,56.8,6.3,53.3,5.5,48.4,4.8,38,5]],
[-3,[29,11,29.5,12,31,11.4,33,12.2,34.2,11.5,33.5,10.8]],
[0,[26.7,11.2,28.9,11.8,31.6,11.9,33.7,11.2,35.8,11.5,40,11.6,40,10.6,42.1,10,48,9.5,53.3,9.6,51.9,8.6,49.8,8.6,50.5,7.5,53,6.2,49,4.9,48,4.3,31,4.3,30,5,34,6,37,9,32,11]],
[0,[10,10.5,11.5,10.7,13,10.6,13,9.5,12,9,10.5,8.6]],
[4,[10.5,10.2,12,10.4,12.8,9.8,12.5,9,11,8.8]],
[-3,[36.6,5.3,36.6,5.9,39,7,42,7.9,46,9,48.4,8.9,50.5,8.7,53,9.5,54.7,10.2,58,10.3,58,9.5,56,8.5,55,7.5,56.3,6.2,52,6.5,50.5,7.6,49.5,6.8,47,5.8,43,5.2]],
[-6,[37.5,5.9,41,6.6,45,6.9,46,6.4,43,6.2,40,5.9]],
[4,[26.8,10.8,28,11.3,31.5,11.6,33.5,11,36,11,39,11.4,39.5,10.7,41,9.6,38,8.3,37.9,7.5,36,6,34,5,47,4.7,47.5,4.2,32,4,31,5]],
[4,[40,8.5,40.3,9.3,42.5,9.6,43.5,9,42,8.3,41,7.7]],
[7,[12.5,10.4,14,11,17,11,18,10.2,20,11,21,11,23,10.8,26,11,27,10.3,29,10.5,31.5,11.2,33,10.4,36,10.9,37.9,11,38,10.4,38.7,8.5,38,7.5,36.5,6.2,33,5,32,4.4,38,4.2,40,4,31,3.2,20,3,12,9]],
[10,[12.5,9.8,14.9,10.9,17.7,9.5,21.2,10.4,24.7,10.4,26.7,9.8,31,8.6,32.3,10.6,36.2,10.6,37.9,8.5,35.8,6.8,34.4,5.2,31,4.5,33,4,35,3.7,33,2,31,1,27,0,3,0,3,5]],
[14,[13,9,14.2,10.5,16,10.6,17,9.5,20,10.2,24,10,26,9.5,28,8.5,31,8.3,33.5,8.2,36,9.8,36.6,8,34,5.5,30.5,4.8,30,3,27,1,25,0,5,0]],
[17,[13.6,9.7,14.5,10.4,15.5,9.9,15,9.2,14,9]],
[17,[21,9.7,21.7,10.3,22.5,9.7,22.2,8.7,21,8.7]],
[17,[27.4,4.5,27.4,5.4,30,6.2,33,7.5,34,6.2,31,4.7]],
[17,[26,8.1,27.5,7,32,6.6,31,6,29,5.8,26,6]],
[20,[10.7,8.8,12.8,8.1,14.2,8.6,15.9,9.2,19.8,9.2,22,8.4,23.4,8.2,25.5,9.4,26.9,8.5,26.9,7.3,24.1,5.6,29.2,5.9,27.4,4.5,30.2,4.3,29.9,3.7,28.8,2,26,1.9,22.6,0,3,0,3,5,5,6.3,8.6,6.3,10,6.2]],
[17,[24,1.7,26.2,1.9,28.8,2,27,0.8,24.5,0,23,0,24,1]],
[24,[10.8,8.3,13,7.7,15,8.3,17,8.2,19.8,9,22,8,23.7,7.9,25.3,9.2,26,8.3,25.5,7.3,23.5,6.3,23.2,5.7,21.5,4.7,29.8,4.4,29.5,3.5,28,2.3,25,2.2,23,2,22,0,3,0,3,1.5,3,5,5,6.1,8,6,10,5.5]],
[20,[21,5.9,24,6.1,26.5,5.9,25,5,22,4.8]],
[27,[11,7.8,12.5,7.6,15,7.9,17,7.8,19.8,8.5,22,7.6,23,7.6,24,6.7,22.5,5.6,21,4.8,22,3.6,28,3.8,28.5,3,27,2.4,24.5,2.4,23,2.6,21.8,2,21.5,0,12,0,11,3]],
[27,[3.2,3.5,3.5,5.5,5,6.1,7,5.7,9,5.7,10,5,10,3,9,2,7,1.5,4,2.2]],
[24,[3.5,2.2,4.2,4,5.5,5.5,7.5,5.3,7.2,3.5,6,2]],
[20,[3.5,1.9,3.3,4.4,4.8,4.7,5.2,3,5,2]],
[30,[9.5,5,10.2,5.3,11,6,12,7.2,14,7.3,16,7.3,18,7.2,19.8,8,21.5,7.2,22.5,6.6,22,5,20.8,3.5,21,2,21,0,12,0,11,4]],
[30,[24.5,2.4,25.5,3.3,27,3.7,27.5,3,26.3,2.3]],
[34,[12,6,13,6.6,15.5,7,17,6.9,19,7.7,21,7,21.5,6,20.5,5,20,3,20,1,19.8,0,13,0,12,3]],
[37,[13,5,15,6.5,17,6.6,19,7,21,5.8,20,5,19,3,20,1.2,19.5,0,13.5,0,13,3]],
[40,[11.6,3.5,13,3.5,14.5,3,16,3.7,18,3,20,1.5,20,0,12.5,0,11.8,1.5]],
[37,[13,0,13.5,1.5,14.5,0.6,14,0]],
[44,[15.5,0,15.5,2.5,16,3,17,2,18,0.7,18.6,0]],
[44,[10.5,0,10.2,5,11,5.7,11.7,5.4,11.3,0]],
[30,[6,0,6,1.5,6.8,1.5,7,0]],[30,[8,0,8,2.2,9.5,2.2,9.5,0]],[37,[8.3,0,8.5,1.2,9.2,1.2,9.3,0]],
[20,[3,0,3.2,0.7,5.5,0.7,5.5,0]],[10,[3.2,0.5,3.8,2,5,1.8,5,0.7]],[7,[3.8,0.8,4.2,1.8,4.7,1.6,4.5,0.8]],
// low clouds
[-13,[29,0,29.5,1.2,31,1.6,32,1.8,33,1.4,34,1.2,36,2,37,1.6,38.5,2.3,39.5,2,41,2.5,42,1,43,0]],
[-10,[30,0,30.5,1.1,32,1.5,33,1,35,1,36,1.7,37.5,1.5,38.5,2,39.5,1.7,40.7,2.2,41.3,0.7,42,0]],
[0,[31,0,32,0.9,33,0.5,35,0.7,36.5,1.2,38,1.4,39.5,1.2,40,2,41,0.5,41,0]],
[4,[34.5,0,34.7,0.5,37,0.8,39.7,0.9,39.5,0]],
[14,[34.8,0,35,0.5,37,0.5,37.5,0]],
[-13,[60,0.9,60,1.5,62,1.5,64,1.1,65,0.7,66,0.8,67,0.5,68,0]],
[-10,[60.5,0,60.5,1.2,62.5,1.2,64,0.9,66,0,67,0]],
[-3,[61,0,61,0.5,64,0.5,64,0]],[0,[61,0,61,0.2,63.5,0.2,63.5,0]],
[-10,[47.5,1.5,47.6,2.7,49,2.8,50,2.6,50,1.5,49,0.8,48,0.9]],[0,[48,1.8,48.7,2.6,49.5,2.4,49,1.4]],
[-13,[53,0,53.5,2,54,2.2,55,0.6,56,0]],[0,[53.5,0,54,1.5,54.5,1.5,55,0.3,55,0]],
[-13,[71.5,0,72,1.3,73.5,1.2,74,0]],[0,[72,0,72.3,0.8,73,0.8,73.3,0]],
[-13,[71.5,2.5,72,3.5,74,3.6,74,3,73,2.5]],[-10,[71.8,2.2,72,3,73,3,73,2.2]],
[-16,[73.5,2.7,73.8,3.5,75,4,75,3.5,74.5,2.7]],
[4,[76.5,4.5,76.5,5,78,5,78.5,5.1,78.5,4.3,77,4.3]],
[-13,[76,0,77,1.5,78,3,78,3.8,79,3.5,80,3.9,81.5,4,81,2,81,0.5,79.5,0]],
[10,[77.8,0.5,78.2,2.8,79.5,3,80.5,3,80.5,0.8]],
[24,[78,0.7,78.5,2.5,79,2.3,80,2,80.7,1.2,80.3,0.5,79,0.4]],
[27,[78.5,0.7,78.8,2,79.5,1.7,79.5,0.6]],
[30,[80,2.4,80.3,3.9,80.7,3.7,80.7,2.4]]
];
const streaksD = [
[-13,65,16,16.3],[0,64.9,16.6,16.9],[20,65,16.6,16.75],[-13,60,14.4,14.9],[20,60,14.5,14.7],[-13,50,13.9,14.3],[-13,76,13.4,14.8],[-13,68.5,12.7,13.5],[-6,70.7,11.7,13],
[4,48,9.6,10.6],[20,48.3,9.4,10.3],[0,48.9,9.4,10.8],[7,48.6,9.3,10],[4,55,11,11.8],[0,56.5,10.8,11.6],[0,59.8,11.2,12],[0,61,10.4,11.3],[0,63,10.2,11],[0,65,10,10.9],[0,41.5,11.3,12.2],[10,42.2,10.6,11.8],
[10,4,6,6.6],[10,6,6.3,7],[20,7,6.5,7.2],[10,8,6.5,7.3],[0,9,6.2,6.9],[20,5,6.5,7],[10,9.5,6,6.6],[27,3.7,5.5,6.2],[-13,2.6,4.7,5.9],[10,2.7,2,5],[-13,9.7,8.4,8.9],[-13,10,8.2,8.8],[0,10.3,6,7],
[10,31,3.5,4.5],[7,32,3,4.3],[10,33,3.2,4.2],[10,34,2.7,4.1],[7,35,3,4.2],[10,36,3.2,4.3],[10,37,2.8,4.2],[7,38,3.3,4.3],[10,39,3.6,4.3],[0,40,3.2,4.2],[10,41,3.5,4.3],[0,42,3.8,4.3],[10,43,3.4,4.3],[10,44,3.7,4.3],[10,45,3.8,4.3],[7,46,3.7,4.4],[10,47,4.3,4.5],
[-16,44,0.5,1.2],[-13,47.5,0.1,0.3],[-16,46.3,0.2,0.6],[4,53,0,0.3],[-13,56.5,0,0.8],[-13,57.5,0.7,0.2],[0,58,0,0.3],[-13,67,0.5,2.3],[0,67.5,0.6,1.6],[-13,68.5,0.3,0],[-16,69,1.2,1.5],[4,70,0,0.6],[-13,75,0,0.3],[-10,77,0,1]
];
const whiteLinesD = [];

const regionsE = [
[-16,[14.2,0,14.2,1.9,16.4,2.5,18,3.9,20.7,6.5,24.6,8.4,25.7,10.6,30,10.7,32.2,12,36.6,11.3,41.5,12.5,44.1,12.8,48.7,12,55.2,12.6,59,12.9,63.7,12.8,65.9,12,71.4,13.1,74.7,13.2,78,12.4,81,12.4,84.9,12.5,84.9,12,89.9,12.2,95.8,11,101.8,12,108.3,12,114.8,13.1,118,13.5,122.4,12.6,126.2,13.2,132.2,12.3,132.2,10,124,9.9,117.4,10.4,104.9,9.5,92,9.2,87.6,8.5,83.3,7,80,6.2,78.4,5.1,76.2,4.2,72.4,3.5,71.3,2.5,67,1.1,63.7,0]],
[-13,[25.7,10.5,30,10.5,32.2,11.7,36.6,11,41.5,12.2,44.1,12.6,48.7,11.7,55,12.4,59,12.7,63.7,12.5,65.9,11.7,71.4,12.8,74.7,13,78,12,81,12.1,84.9,12.2,84.9,11.5,87,11.7,89.9,12,95.8,10.8,101.8,11.7,108.3,11.7,112,12,114.8,12.8,118,13.2,121,12.4,121,11.2,124,10.8,130,10.7,132.2,11.1,132.2,10.3,124,10.1,117.4,10.6,104.9,9.7,92,9.4,87.6,8.7,83.3,7.2,80,6.3,78,5,72,4,30,4]],
[-10,[25.7,10.3,30,10.3,31.5,11.3,33,11,35,11.3,38,10.6,41,12.3,44,12.4,47,12,48,11.8,50,10.4,53,10.5,54,11.7,57,12.3,60,12.1,63,12.3,66,11.5,69,11,72,12.4,75,13,76.5,11.5,79,11,80.5,12,81.5,11,84,11.6,88,11,90,11.5,92,11.5,96,10.6,100,11.2,103,11.6,108,11.3,111.5,11.5,111.7,10.7,104,10,92,9.7,87.5,8.8,84,7.3,80,6.2,78,4.8,30,4]],
[-10,[121,10.7,122,11.5,125,12.7,126.2,13,128,12.3,130,11.3,132.2,11.2,132.2,10.7,126,10.7,124,10.7]],
[-13,[115,11,116,12.5,118,13.2,120,12.2,121,11.5,122,10.8,119,10.6,116,10.6]],
[-6,[31,10.7,33,10.5,35,10.7,38,10.3,40,11.5,42,11.9,44,11.5,46,11.5,48,11,50,10.2,54,10.3,55,11.3,58,11.8,60,11.5,63,11.5,63,10.8,68,10.5,72,11.9,74,12.3,75,11.5,78,11,80,11.4,81,10.7,83,10.5,85,10.2,91,10,92,9.7,87,9.4,85,8.7,82,7.4,79,6.2,78,4.7,30,4]],
[-6,[106,10.3,106,11,108.5,11,108.5,10.3]],
[-3,[32,10.2,36,10.1,38,10.4,40,11,42,11.3,44,10.9,46,10,50,10,60,10.2,68,10.3,72,10.5,80,10.3,86,9.5,87,9,84,8.5,82,7.6,80,7,78,5.3,77,4.6,30,4]],
[0,[31,10.2,33,10.9,35,10.3,38,10.3,41,11.5,44,11.3,45,10.2,48,10,53,10.2,56,10.1,61,10.5,66,10.5,70,10.5,73.5,9.7,80,9.8,79.5,8,76,8,74,6.9,74.5,6.2,72,5.5,71,4.5,60,4.3,30,4]],
[-3,[73.5,9.7,77,9.7,79.5,9.7,80.5,8.5,77,7.5,75,7,75.5,5.5,72.5,4.9,71.5,5.2,72.5,5.5,75,6,74.5,7,75,8,74,9]],
[4,[31,10,33,10.7,35,10.1,38,10.2,41,11,44,10.9,45,10,48,9.7,53,9.9,56,9.9,61,10.2,66,10,70,9.8,72,9.8,74,8.5,73.8,7.2,72,5.5,70,4.8,68,4.3,60,4.3,30,4]],
[7,[31,9.7,33,10,35,9.7,38,9.8,41,10.2,44,10.1,47,9.7,53,9.6,56,9.5,60,9.8,64,9.8,68,9.5,70.5,8.7,72,8,71,7.2,69,6.5,66,5,63,4.5,60,4.3,30,4]],
[10,[25.7,9.5,30.5,9.9,37.4,10,48.7,9.7,56.8,9.9,62.9,10,68.2,8.5,68.2,7.8,61.3,5.2,61.7,4.5,70.6,3.9,69.8,3.1,65.8,1.9,61.7,1,60,0,54,0,15,0,15,2,20,6,24,8]],
[7,[57.7,5.3,58.5,6.3,60,6.5,60.5,6,59,5.2]],
[14,[26,9.2,31,9.7,37.6,9.7,46,9.6,55,9.3,62,9.6,65.5,8.5,66.5,7.5,62,6,58.5,5.6,57,5,56,4.5,60,3.6,60,3,56,1,54,0,15,0,20,6]],
[17,[31,9.6,36,9.4,38,8.8,40,8.3,44,9,49,9.4,55,9,57,9.1,61,9.1,63.7,8.8,62.5,7.8,58.5,7.1,56,7.4,55,8.5,50,8.7,38,8.6]],
[17,[57,3.7,60,3.6,67,3.2,69,2.4,62,1.2,60,1,57,1.5]],
[10,[59,2.5,60.5,1,64,0.2,61,0,58,0.5]],
[10,[54,0,55,1,57,1.2,59,0]],
[20,[25.2,9.4,30,9.7,30.9,9.1,35.7,9.1,38.2,8.2,45.5,9,48.7,8.5,53.6,8.7,56.4,7.6,52.8,5.5,53.6,4.2,57.6,4.2,56.8,1.6,56,1,53.6,0,15,0,15,2,17,3,20,5.5,23,7.5]],
[24,[25.5,9.1,30,9,35.7,8.7,38.2,7.9,45.5,8.7,52,8,55,7.6,52,5.5,52.8,4,56.8,4,56.8,1.6,55,1.2,53.5,0,17,0,18,3,21,6,24,8]],
[27,[26,8.5,29,7.9,33,7.5,38,7.6,42,7.6,46,8,50.5,7.9,53.7,7.3,49,5.5,48.5,5,52,4.4,52.5,1.5,52.2,0,17,0,18,3,21,6]],
[30,[31.7,8.2,36.1,8.1,37.4,7.5,43,7.8,48,7.6,48.7,6.3,46.3,5,41.4,5,39.8,4.5,38.2,4.3,38.2,2.6,39.8,1.7,43.8,2.2,46.3,4,48.7,4.7,52,4.3,52,1.1,52.8,0,16,0,18,3,21,6.5,23.5,7.5,26,6.5,28,5.5]],
[37,[32.5,7.2,35.7,7.3,39,6.7,42.2,7.5,45.5,7,44.7,6,41.4,5,38.2,4.8,34.9,4.5,30.9,3.5,27.6,0,22,0,25,3.5,29,5.5]],
[30,[30,5.5,31,4.5,30,1.5,29,0,26,0,27,3]],
[27,[26,7.5,28,7.8,30,7,31,6,30,4.3,28,3.5,26,4]],
[24,[26,6.8,27.5,6.6,29,6,29.8,4.5,27.5,4,26,4.5]],
[20,[26,5.5,29,5.5,30,4.5,27,4]],
[27,[38.2,4.2,43,5,46.3,4.2,44.7,3.1,43,2,39.8,1.9,38.2,2.5]],
[24,[39,4,43,4.7,44.7,4,42.2,2.8,39.8,2.6]],
[20,[40,3.8,43.2,4.4,42.9,3.2,41,2.8]],
[14,[41.4,4.3,42.7,4.3,42.7,3.7,41.4,3.7]],
[34,[47.1,4.3,52,3.7,52.8,0,44.7,0,43.8,2.2]],
[40,[36.1,6.4,38.2,6.7,39.8,6.1,39.8,5.2,35.7,4.9,34.9,4.8]],
[40,[30.9,3.5,33.7,4.3,38.2,4.7,37.4,2.5,36.5,0,28,0]],
[44,[34.5,4.5,37.4,5,35.7,2.5,36.5,0,30.9,0,33.3,2.5]],
[40,[43.4,2,46.3,0,41,0]],
[24,[53,0.2,53.5,3.4,57,3.4,57,1.7,55,1,54.5,0]],
[44,[19.9,0,20.5,2,21,3,20.9,5.4,22,5.9,22.8,5,22,3,21.5,0]],
[30,[15,0,16,1.5,18,3,18.7,4.5,20.5,6,20.5,2,19.5,0]],
[40,[22.7,7,24.5,7.2,23.5,4.5,22.8,4]],
[37,[21,0,22,3,24,4.5,24,2,23,0]],
[20,[17,0,18,2.5,19,3.5,20,2,19,0]],
[37,[20,5,21,6,22.3,6,23,5]],
// low clouds
[-13,[64.5,0,65.5,0.5,67,0.7,68,0,71,0.5,73,2,74.5,2.6,76,2,77,2.6,79,2,80,2.2,82.5,1.8,83,0]],
[-10,[66,0,67,0.6,67.7,0,71,0,72.5,1.7,74.5,2.2,76,1.8,77,2.3,79,1.7,80,1.9,82.3,1.6,82.7,0]],
[4,[71,0,72,1.2,74.5,1.9,75,1,77,1.9,79,1,80.5,1.7,82,1,82.3,0]],
[10,[73,0,74,1,75,0.2,76,1,79,0.5,80,0,78,0]],
[10,[81,0,81,0.7,82.3,0.7,82.3,0]],
[-13,[101,0,101.3,0.8,103,1,105,1.3,107,2,108.5,1.8,110,0.8,111,1,112,1.2,113,0.5,113.5,0]],
[-10,[102,0,102.3,0.4,105,0.8,107.5,0.7,108,0,110,0.3,112,0.3,112,0]],
[-13,[90,0,90.5,0.5,92,1,93,0.8,93,0]],
[-13,[94,0.5,95,2,96.5,2,96,0.5]],
[-13,[122,0,122.5,0.7,123.5,0.4,124,0.6,124.5,0]]
];
const streaksE = [
[-13,28.5,10.6,12.3],[20,29,10.6,11.5],[10,27,10,10.6],[0,26,9.5,10.4],[4,32.5,10.2,11.2],[20,25.8,9,9.6],[10,24,8,8.6],[10,23.5,7,7.9],[27,22.5,6,6.6],[17,27,6.3,7],[17,29,5,7.2],[10,24,5.5,6.3],[10,27,5,5.7],[17,28,4.5,5.5],[37,24,7,7.8],[-13,17,4.5,5.8],[20,19,3.2,4.4],[-13,18,2,4],[10,16,1,1.5],[4,15,1.1,1.9],[0,16,0,1.2],[-13,14.3,0,1.5],
[20,63,0,0.6],[20,63.5,0.5,1.5],[10,62,0.5,1.2],[20,61.5,0.9,1.8],[27,63.5,0,0.9],[14,65,0,0.4],
[10,71,3.5,4.2],[0,72,2.9,4],[-13,73,3,4],[10,73.5,3.2,4.1],[0,74.5,3.3,4],[-13,75.5,3.6,4.3],[-13,71,2,3.1],[-13,69.5,1,2.6],[20,64,4.5,5],
[0,61.5,11,11.7],[4,60,10.6,11.7],[0,62.3,10.5,12],[0,75,11,12.8],[4,75.4,11,12.3],[4,80,8.6,9.9],[-10,76,10.6,11.5],[-13,112,11.9,13],
[20,87,0.3,0.8],[10,86.5,0.4,1],[-13,89,0,1],[-10,90,0.4,1.3],[-13,90.8,0.7,1.9],[20,93,0.1,1],[0,94.5,1.3,2],[-10,95,1,0.3],[-13,96.5,1.7,2.2],[4,97.5,1.7,2.2],[-13,106,0.2,2.1],[0,107.7,0.7,1.9],[10,108,0.5,1.2],[-13,114,0.2,2.1],[-16,114.7,1.3,2],[4,112.5,0,0.8],[-10,124,0,0.6],[-16,125.7,3.1,3.6],[-13,70,1,2]
];
const whiteLinesE = [];

const regionsF = [
[-16,[2.7,0,6.2,2,10.9,2,11.5,5.5,13.8,7.5,17.3,8.4,20.9,8,25,8.3,26.1,10.6,32.6,10.8,35,11.2,40.8,12.5,43.1,11.9,44.3,11.3,50.2,12,53.7,11.2,58.4,11.2,63.1,12,67.8,12.8,70.7,13,74.8,12,78.3,11.2,80.1,12.4,84.2,12.8,87,11.4,92.4,11.3,95.9,12,99.4,12,105.3,11.9,108.8,11,117,11.2,122.9,11.7,130,11.5,136.9,13.1,143,13.1,143,9.6,138.7,8.4,140,9.6,130,9.6,116,9.5,100.6,8.9,88.9,8.1,85.9,7.2,80.7,6.4,78.3,5.2,76,5,73.6,4.1,69,3.4,65.4,1.1,59.6,0.9,59,0]],
[-13,[26,10.4,32,10.6,40.8,12.2,44,11,50,11.8,54,11,58,11,63,11.8,67.8,12.5,71,12.7,75,11.7,78,11,80,12.2,84,12.5,87,11.1,92,11,96,11.7,99,11.7,105,11.4,108,10.8,113,10.3,117,10.4,120,10.2,124,10.5,128,10.8,130,10.7,136,12.5,143,12.8,143,10,136,10,130,9.8,116,9.8,101,9.2,91,8.5,85,7.6,80.5,6.8,78.5,5.4,73,4.5,70,3.5,30,4]],
[-16,[118,10.3,119,11.3,122,11.3,124,11,123,10.5]],
[-16,[108,10.6,110,10.7,112,10.4,109,10.2]],
[-10,[26,10.4,33,10.3,34,10.9,36,10.8,38,10.5,40,11.9,42,11.8,44,10.5,46,10.3,50,11.5,52,11,54,10.3,58,10.7,60,10.2,63,10.9,67,10.7,67.8,12.3,70,12.4,72,11.9,73,11.2,76,11.5,78,10.7,79.5,10.8,81,12,84,12.4,85.7,11.5,87,10.6,92,10.7,93,10.2,96,11.5,99,11.4,100,10.7,104,10.8,105.5,11.3,107,10.4,105,9.7,100,9.4,94,9.3,87,9.4,82,9.2,78,8.3,74,7.7,75.5,6.5,76.5,5.2,72,4.6,50,4.6,30,9]],
[-13,[74.5,7.5,75.5,8.5,79,9.4,86,8.8,88,8.3,82,7.2,80.5,6.7,79,5.8,78,5.3,77,5.3]],
[-16,[80,6.9,82.5,8,85,8.7,88.5,8.3,85.5,7.3,80.5,6.4]],
[-10,[133.4,10,136.5,12.6,138,12.5,140,11.5,139,10.2]],
[-10,[115,9.9,115,10.8,116.3,10.8,116.3,9.9]],
[-6,[32,10.3,38,10.5,45,10.2,49,10.5,54,10.4,60,10.4,64,10.6,67,10.4,70,11.5,72,11.2,73,10.7,79,10.5,82,10.6,90,10.8,97,10.8,103,10.7,105,10.1,103.5,9.8,95,9.8,88,9.9,80.5,9.8,76,8.5,73,8.3,70,8,66.5,6.6,65,5.5,55,5,30,9]],
[-10,[88,9.2,90,9.9,95,9.5,97,9.8,100,9.4,94,9.3]],
[-10,[73.5,7.3,74.4,8.3,77,8.4,77.5,7.3,76,6,75.5,5.1,73,5]],
[-6,[66.5,6.6,70.5,7.2,71.5,8.3,73.5,8.8,76.5,9.3,77.5,9.8,73,9.4,70,8.9,67,7.8]],
[-3,[26,10,40,10,55,10,65,10.2,71,10,78.5,9.9,76,9.2,73.5,8.9,70,8.3,68,7.2,65.5,6.5,64,5,60,5,30,8]],
[-3,[63,5,63,6,66,7,70.5,7,72,6,72,5.2,70.8,4.5,68,4.7]],
[0,[25.6,10,32,9.7,46.6,9.8,56,9.5,72.4,9.4,67.8,8.6,65.4,7.2,63,5.2,66,4.5,70,3.8,72,4.5,70,4,65,2,60,1,30,8]],
[4,[26,9.7,30,9.3,36,9.2,42,9.5,48,9.7,52,9.2,57.5,9.3,60,9.2,62,8.9,67,8.9,66,7.8,63,5.5,61,4.5,66,4,68,3.6,61,2,60,1,30,8]],
[7,[26,9.5,30,8.9,36,8.8,42,8.7,44,8.3,48,9,52,8.7,55,8.1,57.5,8.4,60,9,62,8.2,64,8.3,63,7,61,5.5,60.5,4.5,63,4.2,61,2.5,60,1.5,55,1,30,7]],
[10,[25.6,9.2,28,8.9,30,8.6,32,8.3,36,8.3,37,8.8,42,8.2,44,7.7,47,8,49,8.5,52,8.1,54,7.2,55.5,6.5,56,5,53,4,52.5,2,51,0,59,0,59.5,1.2,57.5,1,56,2,56,3.8,54,3.9,54.5,7,26,5]],
[14,[26,8,28,7.8,30,8,32,8.4,36,7.9,37,8.2,42,7.7,44,7.1,48,7.9,50,8,53,7.4,54.7,6.5,53.5,5,53,2.5,50,1.2,49,0,44,0,47,5,30,5]],
[17,[38,8.2,41,7.5,43,6.9,47,7.3,50,7.7,53,7,54,6,51,5.5,50,5,47.5,5.5,45,6.5,41,7]],
[7,[52.6,0.7,52.6,5,56,5.3,58,6.3,60,7.4,62,7.7,63,6.9,61,5.2,60,4.5,58.5,4.3,56,4,56,1.2]],
[10,[52.6,0.5,56.1,3.9,59.6,2.6,59.6,0.3]],
[10,[56.6,5,57.9,5.9,59.6,6.2,59.6,5]],
[10,[60,7.7,60,7.2,61,7.4,60.7,6.8]],
[10,[48.7,4.5,53,5,52.6,1.2,48,0.6]],
[4,[59,4.2,60.5,3.3,62,3.3,62.5,4.2]],
// left speckled tower
[10,[11.5,0,11,3,11,5.3,13,7.5,16.5,8.3,18,8.3,20,8,22,7.8,25.5,8,25.5,5.5,20,3,15,0]],
[20,[11.8,0,11.8,3,14.5,4.5,18.9,5.9,20.6,5.3,25,4.7,25.5,3.9,22,1,20,0]],
[30,[13.6,5,14,7,15,7.2,16.5,8.1,18.3,8.2,18.5,6.8,17.5,5,16.5,4.5,15.5,4.7]],
[40,[14.5,6.2,15.5,6.6,15.5,5.9,14.7,5.7]],
[14,[18.5,6.5,20,8,21.5,7,23,6.6,24.8,5.7,24,4.9,22,5,19.5,6]],
[20,[26.3,8.6,27.2,7.7,29,7.4,30.7,8,32,7.9,33.8,8.1,36,8,36.4,7.3,37.3,7.1,39.5,6.6,43,6.9,46.5,7.2,47.8,7.7,50,7.7,51.8,7.1,50,6.5,46.5,6,44.7,5.6,46.5,5.1,47.4,4.2,46.9,3,46.5,0.3,45.2,0,14,0,18,2.5,22,4,25,5]],
[24,[26.3,7.2,28,7.2,32.5,7.7,35.5,7.5,36,6.8,39.5,6.3,43,6.6,44.7,6,44.7,5.3,46,4.8,46.5,2.7,45.6,0.2,45,0,15.5,0,19,2.2,22,3.5,25,4.5]],
[27,[26.3,6.8,29.8,6.2,30.7,5.7,33.3,4.9,35,6.4,36.8,4.9,42,6.6,43,4.9,44.7,4.4,44.7,1.8,44.3,0.2,44,0,17,0,19.5,2,22,3.2,24.5,4.2]],
[30,[25,4.3,30.7,4.4,31.1,6,33.8,4.7,36.8,4.7,43,6.5,38.6,4.7,43.9,4.1,44.7,3.3,44.3,0.3,44,0,18,0,19.5,1.7,21,3]],
[34,[26.3,4,34.2,4,38.6,4.4,43,4,43,0,20,0,21.5,1.3,25,3.5]],
[37,[24.5,3,32.5,3.5,36,3.8,40.4,3.9,42,3,41.2,1.8,42,0.2,42,0,21,0,24,2]],
[40,[32.9,3,31.6,1.4,33.3,1.2]],
[40,[36,3.8,34.6,2.1,36.4,2.1]],
[40,[39,3,37.7,1.5,35,0,39.5,0]],
[40,[27.2,0.6,29.8,0.6,29.8,0,27,0]],
// low-left cell
[-13,[5.5,0,6.5,2,10.5,2,10.9,1,11,0]],
[10,[6,0,6.5,1.9,9,1.9,10.3,1,10,0]],
[20,[7,0,7,1.7,8,1.9,9,1,9,0]],
[4,[10,0,10.5,1.2,11,0]],
// low clouds
[-13,[75.5,0,76,1,77,0.6,78.5,0,79,1,80,1.8,81,2.2,83,2.2,84,2,85,2.7,86,3,87,2.7,88,2.7,90,0.7,90,0]],
[-10,[79,0,79.5,1,81,1.8,83,1.9,84,1.2,85.5,2.6,87,2.3,89,1.2,89.5,0]],
[0,[79,0,80,0.8,82,1.6,83.5,1.2,84,0]],
[4,[80,0,80.5,0.5,83,0.8,83.5,0]],
[10,[85,0,85,2.2,87.5,2.4,88.7,1,89,0]],
[30,[85.5,0,85.8,2,87,2,87,0]],
[14,[87,0,87,1.5,88,1.5,88.5,0]],
[-10,[76,0,76.5,0.8,77.5,0.3,77.5,0]]
];
const streaksF = [
[10,41,10.7,11.8],[0,40,10.3,11.2],[20,40.5,11,11.7],[0,27,10.3,10.7],[10,29,10,10.6],[20,30,10.1,10.4],[0,31,10,10.5],[0,38.5,10,10.9],[0,49.5,10.3,11.4],[10,50,10.7,11.4],[4,53,10,11.2],[10,60.5,10.2,11.7],[20,60.2,10.5,11],[0,61,10.7,11.2],[10,65,11.2,12.1],[0,66,10.8,12.2],[4,67.5,11.2,12.8],[20,66.5,11,11.7],[0,67,10.5,11.5],[4,63,9.8,10.9],[0,79.5,10.5,11.8],[4,80,10.2,10.9],[10,81,10.9,11.7],[0,83,10.5,11.9],[4,84,10.5,12.3],[20,83.5,11.3,11.9],[10,92,10.2,11],[0,93,10.7,11.3],[10,97,10.7,11.5],[0,98,10.2,11.2],[0,105.5,9.9,11],[10,106,10,11.2],[4,130,9.8,11.4],[0,131,10,11.5],[10,130.5,10.2,11],[0,142,9.7,12.4],[4,142.5,10,11.5],[-10,141,9,10.8],[-13,139,8.5,9.6],[-16,140,8.6,10],
[20,53.5,8.6,9.7],[17,54.5,8.5,9.3],[20,62,8,8.9],[-3,71,10,10.3],
[27,13,5,7],[17,14,4,6],[17,21,5.5,7],[4,22.5,6,7.9],[20,24.5,5.5,6.3],[-13,11.3,3,5],[4,25.2,6.5,8],[10,12.5,3,5],
[10,60,1.2,3],[-13,61,1.2,2.5],[-6,62,1,2],[-13,63,1,2.2],[4,65,3,3.7],[10,66,3,3.6],[0,67,3,4],[10,68,3.4,4],[0,69,3.5,4.3],[7,70,3.8,4.3],[0,72,4.2,4.8],[10,71,4.2,4.6],[0,73,4.2,4.6],[-13,74,4.2,4.6],
[10,96.5,0,1.7],[0,97.5,0,1.4],[-13,98.5,0,1.2],[-13,95,0,0.2],[20,96,0,0.5],[-13,102,0,1.4],[0,103,0,1.3],[10,103.5,0.3,1],[-13,104.5,0,1.2],[-13,108,0,0.4],[-13,110,0,0.2],[4,112,0,0.3],[-10,113,0,0.3],[10,115.5,0,2],[0,115.8,0.5,1.7],[-13,116,1,2.1],[27,115.8,0,0.4],[-13,122.7,0,1],[0,122.9,0.1,0.6],[-13,126.5,0,1.1],[-13,127.5,0,0.9],[-10,128,0.8,1.3],[-16,135,0,0.4],[-16,3.5,0,0.4],[4,3.7,0,0.2],[-16,74.7,0.8,1.1],[0,70.3,1,1.3],[-3,70,0.9,1.1]
];
const whiteLinesF = [];

function colorFor(dbz){
  const i = bandCeilings.findIndex(function(c){return dbz <= c;});
  return bandColors[i < 0 ? bandColors.length - 1 : i];
}
const NS = 'http://www.w3.org/2000/svg';
const root = document.getElementById('panels');
function make(parent, tag, attrs){
  const el = document.createElementNS(NS, tag);
  for (const k in attrs) el.setAttribute(k, attrs[k]);
  parent.appendChild(el);
  return el;
}
function drawPanel(cfg, xTicks, regions, streaks, whiteLines){
  const xAt = function(km){return cfg.x0 + km * cfg.kmPx;};
  const yAt = function(alt){return cfg.y0 - alt * cfg.altPx;};
  const g = make(root, 'g', {});
  
  
  const clip = make(g, 'clipPath', {id: 'clip-' + cfg.id});
  make(clip, 'rect', {x: cfg.left, y: cfg.top, width: cfg.right - cfg.left, height: cfg.bottom - cfg.top});
  // grid
  altitudeTicks.forEach(function(a){
    if (a === 18) return;
    const line = make(g, 'line', {x1: cfg.left, x2: cfg.right, y1: yAt(a), y2: yAt(a), stroke: '#e9e9e9', 'stroke-width': 2});
    
    
  });
  xTicks.forEach(function(k){
    if (k === 0) return;
    const line = make(g, 'line', {x1: xAt(k), x2: xAt(k), y1: cfg.top, y2: cfg.bottom, stroke: '#e4e4e4', 'stroke-width': 1});
    
    
  });
  // contour fills
  const plot = make(g, 'g', {'clip-path': 'url(#clip-' + cfg.id + ')'});
  
  
  regions.forEach(function(r){
    const pts = [];
    for (let i = 0; i < r[1].length; i += 2) pts.push(xAt(r[1][i]).toFixed(1) + ',' + yAt(r[1][i + 1]).toFixed(1));
    const poly = make(plot, 'polygon', {points: pts.join(' '), fill: colorFor(r[0])});
    
    
  });
  streaks.forEach(function(s){
    const lo = Math.min(s[2], s[3]), hi = Math.max(s[2], s[3]);
    const rect = make(plot, 'rect', {x: xAt(s[1]), y: yAt(hi), width: 2.4, height: (hi - lo) * cfg.altPx, fill: colorFor(s[0])});
    
    
  });
  whiteLines.forEach(function(w){
    const line = make(plot, 'line', {x1: xAt(w[0]), y1: yAt(w[1]), x2: xAt(w[2]), y2: yAt(w[3]), stroke: '#ffffff', 'stroke-width': 1.5, opacity: 0.85});
    
    
  });
  // frame
  const frame = make(g, 'rect', {x: cfg.left, y: cfg.top, width: cfg.right - cfg.left, height: cfg.bottom - cfg.top, fill: 'none', stroke: '#666', 'stroke-width': 1.6});
  
  
  altitudeTicks.forEach(function(a){
    [[cfg.left, cfg.left + 6], [cfg.right - 6, cfg.right]].forEach(function(p){
      const t = make(g, 'line', {x1: p[0], x2: p[1], y1: yAt(a), y2: yAt(a), stroke: '#444', 'stroke-width': 1.4});
      
      
    });
    const lab = make(g, 'text', {x: cfg.left - 12, y: yAt(a) + 11, 'text-anchor': 'end', class: 'tick'});
    
    
    lab.textContent = a;
  });
  xTicks.forEach(function(k){
    [[cfg.top, cfg.top + 6], [cfg.bottom - 6, cfg.bottom]].forEach(function(p){
      const t = make(g, 'line', {x1: xAt(k), x2: xAt(k), y1: p[0], y2: p[1], stroke: '#444', 'stroke-width': 1.4});
      
      
    });
    const lab = make(g, 'text', {x: xAt(k), y: cfg.labelY, 'text-anchor': 'middle', class: 'tick'});
    
    
    lab.textContent = k;
  });
}
function drawColorbar(id, left, right, top, bottom, yAt0, pxPerDbz){
  const g = make(root, 'g', {});
  
  
  const h = (bottom - top) / bandColors.length;
  bandColors.forEach(function(c, i){
    const r = make(g, 'rect', {x: left, y: bottom - (i + 1) * h, width: right - left, height: h + 0.4, fill: c});
    
    
  });
  const f = make(g, 'rect', {x: left, y: top, width: right - left, height: bottom - top, fill: 'none', stroke: '#666', 'stroke-width': 1.4});
  
  
  colorbarTicks.forEach(function(v){
    const y = yAt0 - v * pxPerDbz;
    const t = make(g, 'line', {x1: right - 4, x2: right, y1: y, y2: y, stroke: '#444', 'stroke-width': 1.2});
    
    
    const lab = make(g, 'text', {x: right + 9, y: y + 10, class: 'cb'});
    
    
    lab.textContent = v;
  });
}
drawPanel({id:'a',left:139.3,right:683,top:106.6,bottom:507,x0:139.3,kmPx:6.385,y0:504.6,altPx:22.15,labelY:546}, xTicksShort, regionsA, streaksA, whiteLinesA);
drawPanel({id:'b',left:782.6,right:1326.8,top:108,bottom:509.6,x0:781.5,kmPx:4.115,y0:506.4,altPx:22.15,labelY:548}, xTicksLong, regionsB, streaksB, whiteLinesB);
drawPanel({id:'c',left:1429,right:1973.7,top:111,bottom:511.4,x0:1428.6,kmPx:3.81,y0:508.2,altPx:22.15,labelY:550}, xTicksLong, regionsC, streaksC, whiteLinesC);
drawPanel({id:'d',left:141.5,right:685.7,top:617.7,bottom:1019,x0:141.5,kmPx:6.39,y0:1015.4,altPx:22.15,labelY:1057}, xTicksShort, regionsD, streaksD, whiteLinesD);
drawPanel({id:'e',left:786.6,right:1331,top:617.7,bottom:1019,x0:786.6,kmPx:4.108,y0:1015.4,altPx:22.15,labelY:1057}, xTicksLong, regionsE, streaksE, whiteLinesE);
drawPanel({id:'f',left:1430.4,right:1975,top:616.7,bottom:1017.4,x0:1430.4,kmPx:3.8,y0:1014,altPx:22.15,labelY:1055}, xTicksLong, regionsF, streaksF, whiteLinesF);
drawColorbar('top',1984,2012,110.7,510.7,371,5.66);
drawColorbar('bottom',1986,2014,617.7,1018,874,5.6);
</script>
</body>
</html>
